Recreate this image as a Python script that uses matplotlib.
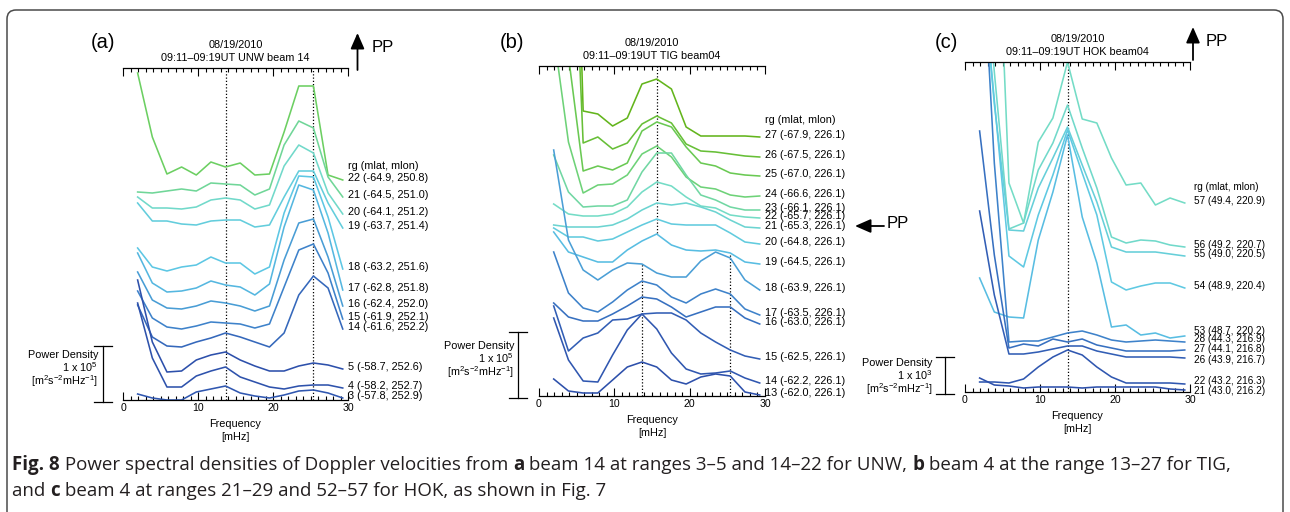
import numpy as np
import matplotlib
matplotlib.use("Agg")
import matplotlib.pyplot as plt
from matplotlib.colors import LinearSegmentedColormap
from matplotlib.patches import FancyBboxPatch
from matplotlib.ticker import MultipleLocator
import matplotlib.transforms as mtransforms

plt.rcParams['font.family'] = ['Liberation Sans', 'DejaVu Sans']
plt.rcParams['mathtext.fontset'] = 'custom'
plt.rcParams['mathtext.rm'] = 'Liberation Sans'
plt.rcParams['mathtext.it'] = 'Liberation Sans:italic'

W, H = 1290, 512

# frequency bins [mHz]
freq = [1.95, 3.91, 5.86, 7.81, 9.77, 11.72, 13.67, 15.63,
        17.58, 19.53, 21.48, 23.44, 25.39, 27.34, 29.30]

# ---- panel (a): UNW beam 14 (stacked PSD, plot units; scale bar = 1e5) ----
rg_a = [22, 21, 20, 19, 18, 17, 16, 15, 14, 5, 4, 3]
loc_a = ['(-64.9, 250.8)', '(-64.5, 251.0)', '(-64.1, 251.2)', '(-63.7, 251.4)',
         '(-63.2, 251.6)', '(-62.8, 251.8)', '(-62.4, 252.0)', '(-61.9, 252.1)',
         '(-61.6, 252.2)', '(-58.7, 252.6)', '(-58.2, 252.7)', '(-57.8, 252.9)']
psd_a = [
    [327, 263, 226, 233, 225, 238, 233, 237, 225, 226, 268, 314, 314, 225, 220],
    [208, 207, 209, 211, 209, 217, 216, 215, 205, 211, 255, 279, 272, 223, 203],
    [203, 192, 192, 191, 193, 200, 202, 200, 191, 195, 234, 255, 247, 207, 186],
    [197, 179, 179, 176, 175, 179, 180, 180, 173, 175, 203, 229, 229, 197, 172],
    [152, 133, 129, 133, 135, 143, 137, 137, 126, 133, 187, 224, 223, 183, 131],
    [147, 117, 108, 109, 112, 119, 115, 113, 105, 116, 173, 215, 210, 167, 110],
    [128, 100, 92, 91, 94, 99, 97, 94, 89, 94, 140, 177, 181, 143, 94],
    [109, 82, 73, 71, 74, 78, 77, 76, 72, 76, 113, 150, 156, 127, 81],
    [95, 63, 54, 53, 58, 62, 67, 63, 58, 53, 67, 105, 124, 112, 71],
    [120, 58, 28, 29, 40, 45, 48, 40, 34, 29, 29, 34, 37, 35, 31],
    [97, 42, 13, 13, 24, 29, 33, 23, 18, 13, 11, 14, 15, 15, 12],
    [6, 2, 0, 0, 8, 11, 14, 7, 4, 2, 5, 9, 10, 7, 2],
]
peaks_a = [(13.67, 0, 332), (25.39, 0, 332)]

# ---- panel (b): TIG beam04 (scale bar = 1e5) ----
rg_b = [27, 26, 25, 24, 23, 22, 21, 20, 19, 18, 17, 16, 15, 14, 13]
loc_b = ['(-67.9, 226.1)', '(-67.5, 226.1)', '(-67.0, 226.1)', '(-66.6, 226.1)',
         '(-66.1, 226.1)', '(-65.7, 226.1)', '(-65.3, 226.1)', '(-64.8, 226.1)',
         '(-64.5, 226.1)', '(-63.9, 226.1)', '(-63.5, 226.1)', '(-63.0, 226.1)',
         '(-62.5, 226.1)', '(-62.2, 226.1)', '(-62.0, 226.1)']
psd_b = [
    [800, 780, 285, 282, 270, 278, 312, 317, 307, 269, 260, 260, 260, 260, 259],
    [700, 600, 253, 259, 247, 253, 272, 280, 273, 252, 245, 244, 242, 240, 239],
    [400, 340, 225, 230, 226, 233, 265, 274, 269, 249, 233, 230, 223, 221, 220],
    [362, 254, 203, 211, 212, 221, 242, 250, 239, 219, 209, 207, 201, 199, 200],
    [241, 204, 189, 190, 190, 196, 224, 243, 243, 221, 201, 196, 189, 186, 186],
    [192, 182, 180, 180, 182, 189, 204, 214, 210, 199, 190, 188, 181, 179, 178],
    [171, 169, 169, 169, 171, 177, 186, 193, 191, 193, 189, 184, 176, 169, 168],
    [168, 159, 159, 155, 157, 164, 171, 177, 172, 171, 171, 171, 163, 154, 152],
    [164, 144, 139, 134, 134, 146, 155, 162, 151, 146, 145, 146, 143, 134, 132],
    [246, 156, 126, 116, 126, 133, 132, 123, 119, 119, 135, 144, 138, 116, 106],
    [144, 103, 88, 84, 94, 106, 115, 111, 99, 93, 102, 107, 102, 87, 81],
    [93, 79, 75, 75, 82, 90, 99, 97, 89, 79, 84, 89, 89, 78, 72],
    [90, 45, 58, 63, 76, 77, 82, 83, 83, 76, 63, 54, 46, 40, 37],
    [78, 36, 15, 14, 41, 66, 82, 67, 43, 27, 22, 23, 25, 18, 13],
    [17, 5, 3, 3, 16, 29, 34, 29, 16, 12, 19, 22, 20, 4, 1],
]
peaks_b = [(15.63, 163, 330), (13.67, 0, 132), (25.39, 0, 143)]

# ---- panel (c): HOK beam04 (scale bar = 1e3) ----
rg_c = [57, 56, 55, 54, 53, 28, 27, 26, 22, 21]
loc_c = ['(49.4, 220.9)', '(49.2, 220.7)', '(49.0, 220.5)', '(48.9, 220.4)',
         '(48.7, 220.2)', '(44.3, 216.9)', '(44.1, 216.8)', '(43.9, 216.7)',
         '(43.2, 216.3)', '(43.0, 216.2)']
psd_c = [
    [600, 567, 209, 169, 250, 274, 330, 273, 269, 234, 207, 209, 187, 194, 189],
    [500, 320, 163, 169, 222, 249, 287, 244, 204, 155, 149, 152, 151, 147, 145],
    [450, 288, 162, 161, 204, 234, 265, 227, 190, 145, 140, 140, 140, 138, 136],
    [450, 292, 136, 125, 177, 217, 262, 219, 177, 110, 102, 106, 109, 109, 104],
    [114, 80, 75, 74, 152, 200, 257, 175, 129, 65, 67, 57, 59, 54, 56],
    [500, 229, 50, 51, 51, 55, 59, 61, 57, 52, 50, 51, 52, 51, 50],
    [261, 137, 44, 48, 46, 53, 50, 53, 47, 44, 41, 41, 41, 41, 42],
    [181, 97, 38, 38, 40, 43, 46, 46, 41, 38, 35, 35, 35, 35, 34],
    [10, 10, 9, 13, 25, 35, 42, 37, 25, 15, 9, 9, 9, 9, 8],
    [14, 7, 6, 4, 5, 5, 5, 4, 5, 5, 5, 5, 5, 3, 2],
]
peaks_c = [(13.67, 0, 330)]

# colour position of each curve along the blue -> green ramp
shade_a = [0.80, 0.70, 0.60, 0.50, 0.46, 0.40, 0.31, 0.22, 0.12, 0.02, 0.03, 0.05]
shade_b = [1.00, 0.92, 0.84, 0.76, 0.68, 0.62, 0.56, 0.49, 0.42, 0.32, 0.22, 0.15, 0.08, 0.05, 0.02]
shade_c = [0.62, 0.60, 0.52, 0.47, 0.42, 0.22, 0.15, 0.08, 0.05, 0.02]

# small vertical nudges of the crowded end labels (plot units)
nudge_a = [2] * len(rg_a)
nudge_b = [2] * len(rg_b)
nudge_c = [2, 2, 2, 2, 5, 3, 1, -2, 3, -1]

ramp = LinearSegmentedColormap.from_list(
    'ramp', [(0.0, '#2c4ba8'), (0.2, '#3b7cc8'), (0.45, '#5cc6e6'),
             (0.62, '#74dcc6'), (0.8, '#6ccf62'), (1.0, '#63b51c')])

fig = plt.figure(figsize=(W / 100, H / 100), dpi=100)


def ftext(x, y, s, **kw):
    return fig.text(x / W, 1 - y / H, s, **kw)


def panel(left, top, right, bottom, rg, loc, psd, shade, peaks, nudge,
          bar_len, bar_exp, bar_dx, text_dx, text_mid, lab_dx, rg_dy, lab_size):
    ax = fig.add_axes([left / W, 1 - bottom / H, (right - left) / W, (bottom - top) / H])
    hgt = bottom - top
    ax.set_xlim(0, 30)
    ax.set_ylim(0, hgt)
    for s in ('left', 'right'):
        ax.spines[s].set_visible(False)
    for s in ('top', 'bottom'):
        ax.spines[s].set_linewidth(0.9)
    ax.set_yticks([])
    ax.xaxis.set_major_locator(MultipleLocator(10))
    ax.xaxis.set_minor_locator(MultipleLocator(1))
    ax.tick_params(which='both', direction='in', top=True, bottom=True,
                   labeltop=False, width=0.8, labelsize=7.6, pad=2)
    ax.tick_params(which='major', length=5.5)
    ax.tick_params(which='minor', length=2.6)
    ax.patch.set_alpha(0)

    for fx, y0, y1 in peaks:
        ax.plot([fx, fx], [y0, y1], color='k', lw=0.9, ls=(0, (1, 1.6)), zorder=1)

    for r, l, vals, sh, dy in zip(rg, loc, psd, shade, nudge):
        ax.plot(freq, vals, color=ramp(sh), lw=1.15, zorder=2)
        ax.text(30 + lab_dx, vals[-1] + dy, f'{r} {l}', fontsize=lab_size,
                va='center', ha='left', clip_on=False)
    ax.text(30 + lab_dx, psd[0][-1] + rg_dy, 'rg (mlat, mlon)', fontsize=lab_size,
            va='center', ha='left', clip_on=False)

    # scale bar
    tr = mtransforms.blended_transform_factory(ax.transAxes, ax.transData)
    bx = bar_dx / (right - left)
    cw = 9 / (right - left)
    ax.plot([bx, bx], [-2, bar_len - 2], color='k', lw=0.9, transform=tr, clip_on=False)
    for yy in (-2, bar_len - 2):
        ax.plot([bx - cw, bx + cw], [yy, yy], color='k', lw=0.9, transform=tr, clip_on=False)
    tx = text_dx / (right - left)
    ax.text(tx, text_mid + 12, 'Power Density', transform=tr, ha='right', va='center', fontsize=7.8)
    ax.text(tx, text_mid, r'1 x 10$^{%d}$' % bar_exp, transform=tr, ha='right', va='center', fontsize=7.8)
    ax.text(tx, text_mid - 14, r'[m$^2$s$^{-2}$mHz$^{-1}$]', transform=tr, ha='right',
            va='center', fontsize=7.8)

    cx = (left + right) / 2
    ftext(cx, bottom + 24, 'Frequency', ha='center', va='center', fontsize=7.8)
    ftext(cx, bottom + 37, '[mHz]', ha='center', va='center', fontsize=7.8)
    return ax


panel(123, 68, 348, 400, rg_a, loc_a, psd_a, shade_a, peaks_a, nudge_a,
      56, 5, -20, -25, 33, 0.05, 14, 7.8)
panel(539, 66, 765, 396, rg_b, loc_b, psd_b, shade_b, peaks_b, nudge_b,
      66, 5, -21, -25, 38, 0.05, 17, 7.8)
panel(965, 62, 1190, 392, rg_c, loc_c, psd_c, shade_c, peaks_c, nudge_c,
      37, 3, -20, -32, 17, 0.6, 16, 7.2)

# titles and panel letters
for cx, top, letter, lx, ly, head in [
        (235.5, 68, '(a)', 103, 43, 'UNW beam 14'),
        (652, 66, '(b)', 512, 43, 'TIG beam04'),
        (1077.5, 62, '(c)', 946, 42, 'HOK beam04')]:
    ftext(cx, top - 23, '08/19/2010', ha='center', va='center', fontsize=7.8)
    ftext(cx, top - 10, '09:11\u201309:19UT ' + head, ha='center', va='center', fontsize=7.8)
    ftext(lx, ly, letter, ha='center', va='center', fontsize=14.5)

# PP arrows
arrow = dict(arrowstyle='-|>,head_length=0.8,head_width=0.35', color='k', lw=1.3,
             shrinkA=0, shrinkB=0, mutation_scale=12)
fig.axes[0].annotate('', xy=(357.5, H - 33), xytext=(357.5, H - 70),
                     xycoords='figure pixels', textcoords='figure pixels', arrowprops=arrow)
ftext(372, 48, 'PP', ha='left', va='center', fontsize=12)
fig.axes[2].annotate('', xy=(1193, H - 27), xytext=(1193, H - 60),
                     xycoords='figure pixels', textcoords='figure pixels', arrowprops=arrow)
ftext(1206, 41, 'PP', ha='left', va='center', fontsize=12)
fig.axes[1].annotate('', xy=(855, H - 226), xytext=(884, H - 226),
                     xycoords='figure pixels', textcoords='figure pixels', arrowprops=arrow)
ftext(887, 224, 'PP', ha='left', va='center', fontsize=12)

# outer frame
frame = FancyBboxPatch((7, -30), W - 14, H - 10 + 30,
                       boxstyle='round,pad=0,rounding_size=9', fill=False,
                       ec='#4a4a4a', lw=1.1, transform=mtransforms.IdentityTransform())
fig.add_artist(frame)

# caption with bold runs
cap1 = [('Fig. 8', 'bold'), (' Power spectral densities of Doppler velocities from ', 'normal'),
        ('a', 'bold'), (' beam 14 at ranges 3\u20135 and 14\u201322 for UNW, ', 'normal'),
        ('b', 'bold'), (' beam 4 at the range 13\u201327 for TIG,', 'normal')]
cap2 = [('and ', 'normal'), ('c', 'bold'),
        (' beam 4 at ranges 21\u201329 and 52\u201357 for HOK, as shown in Fig. 7', 'normal')]
cap_font = ['Open Sans', 'DejaVu Sans']
renderer = fig.canvas.get_renderer()


def runs(x, y, parts, size, draw=True):
    arts = []
    for s, wgt in parts:
        t = ftext(x, y, s, ha='left', va='baseline', fontsize=size, weight=wgt,
                  family=cap_font, color='#231f20')
        x += t.get_window_extent(renderer).width
        arts.append(t)
    if not draw:
        for t in arts:
            t.remove()
    return x


w10 = runs(12, 470, cap1, 10, draw=False) - 12
csize = 10 * (1233 - 12) / w10
runs(12, 470, cap1, csize)
runs(12, 496, cap2, csize)

fig.savefig('out.png', dpi=100)
